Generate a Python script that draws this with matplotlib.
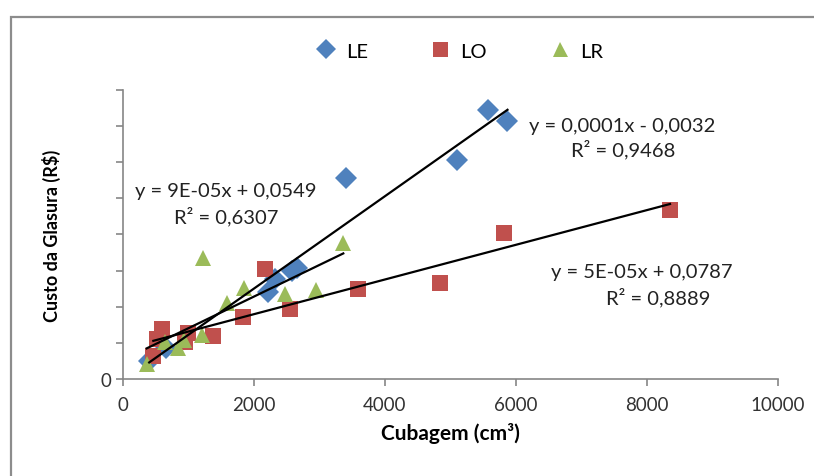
import matplotlib
matplotlib.use("Agg")
import matplotlib.pyplot as plt
from matplotlib.patches import Rectangle
import numpy as np

plt.rcParams['font.family'] = ['Lato', 'DejaVu Sans']

# Cubagem (cm3) x Custo da Glasura (R$)
le_x = [400, 650, 2210, 2320, 2580, 2660, 3400, 5100, 5580, 5870]
le_y = [0.050, 0.085, 0.242, 0.276, 0.300, 0.307, 0.556, 0.607, 0.744, 0.714]

lo_x = [463, 515, 591, 947, 997, 1379, 1837, 2168, 2550, 3592, 4840, 5817, 8351]
lo_y = [0.064, 0.110, 0.137, 0.102, 0.128, 0.119, 0.172, 0.304, 0.194, 0.249,
        0.266, 0.405, 0.469]

lr_x = [362, 641, 844, 931, 1202, 1217, 1592, 1847, 2473, 2947, 3363]
lr_y = [0.041, 0.103, 0.085, 0.107, 0.121, 0.334, 0.209, 0.252, 0.234, 0.247, 0.376]

eq_labels = {
    'LE': ('y = 0,0001x - 0,0032', 'R² = 0,9468'),
    'LR': ('y = 9E-05x + 0,0549', 'R² = 0,6307'),
    'LO': ('y = 5E-05x + 0,0787', 'R² = 0,8889'),
}

x_ticks = [0, 2000, 4000, 6000, 8000, 10000]
y_ticks = [0, 0.1, 0.2, 0.3, 0.4, 0.5, 0.6, 0.7, 0.8]

fig = plt.figure(figsize=(8.14, 4.77), dpi=100)
ax = fig.add_axes([0.1511, 0.2034, 0.8047, 0.6058])

# outer chart frame (runs off the right/bottom edge in the reference)
fig.patches.append(Rectangle((11 / 814, -0.05), 1.2, 1.05 - 18 / 477,
                             transform=fig.transFigure, fill=False,
                             edgecolor='#8c8c8c', linewidth=1.6))

series = [
    ('LE', le_x, le_y, 'D', '#4F81BD', 11),
    ('LO', lo_x, lo_y, 's', '#C0504D', 12),
    ('LR', lr_x, lr_y, '^', '#9BBB59', 12),
]

for name, xs, ys, mk, col, ms in series:
    ax.plot(xs, ys, linestyle='none', marker=mk, color=col, markersize=ms,
            markeredgewidth=0, label=name, zorder=2)

# linear trendlines over each series' range
for name, xs, ys, mk, col, ms in series:
    xs = np.array(xs)
    k, b = np.polyfit(xs, ys, 1)
    xx = np.array([xs.min(), xs.max()])
    ax.plot(xx, k * xx + b, color='black', linewidth=1.6, zorder=3)

txt = dict(fontsize=14.5, ha='center', va='center', color='#222222')
ax.text(7618, 0.703, eq_labels['LE'][0], **txt)
ax.text(7634, 0.637, eq_labels['LE'][1], **txt)
ax.text(1573, 0.522, eq_labels['LR'][0], **txt)
ax.text(1573, 0.453, eq_labels['LR'][1], **txt)
ax.text(7924, 0.297, eq_labels['LO'][0], **txt)
ax.text(8168, 0.228, eq_labels['LO'][1], **txt)

ax.set_xlim(0, 10000)
ax.set_ylim(0, 0.8)
ax.set_xticks(x_ticks)
ax.set_xticklabels([str(t) for t in x_ticks])
ax.set_yticks(y_ticks)
ax.set_yticklabels(['0'] + [''] * (len(y_ticks) - 1))

for side in ['top', 'right']:
    ax.spines[side].set_visible(False)
for side in ['left', 'bottom']:
    ax.spines[side].set_color('#868686')
    ax.spines[side].set_linewidth(1.2)
ax.tick_params(axis='both', direction='out', length=5, color='#868686',
               labelsize=13.5, labelcolor='#333333', width=1.2)
ax.tick_params(axis='x', pad=7)

ax.set_xlabel('Cubagem (cm³)', fontsize=15, fontweight='bold', labelpad=7)
ax.set_ylabel('Custo da Glasura (R$)', fontsize=13, fontweight='bold', labelpad=28)

fig.legend(loc='center', bbox_to_anchor=(0.558, 0.891), ncol=3, frameon=False,
           fontsize=14.5, handletextpad=0.0, columnspacing=2.6, markerscale=0.9)

fig.savefig('out.png', dpi=100)
